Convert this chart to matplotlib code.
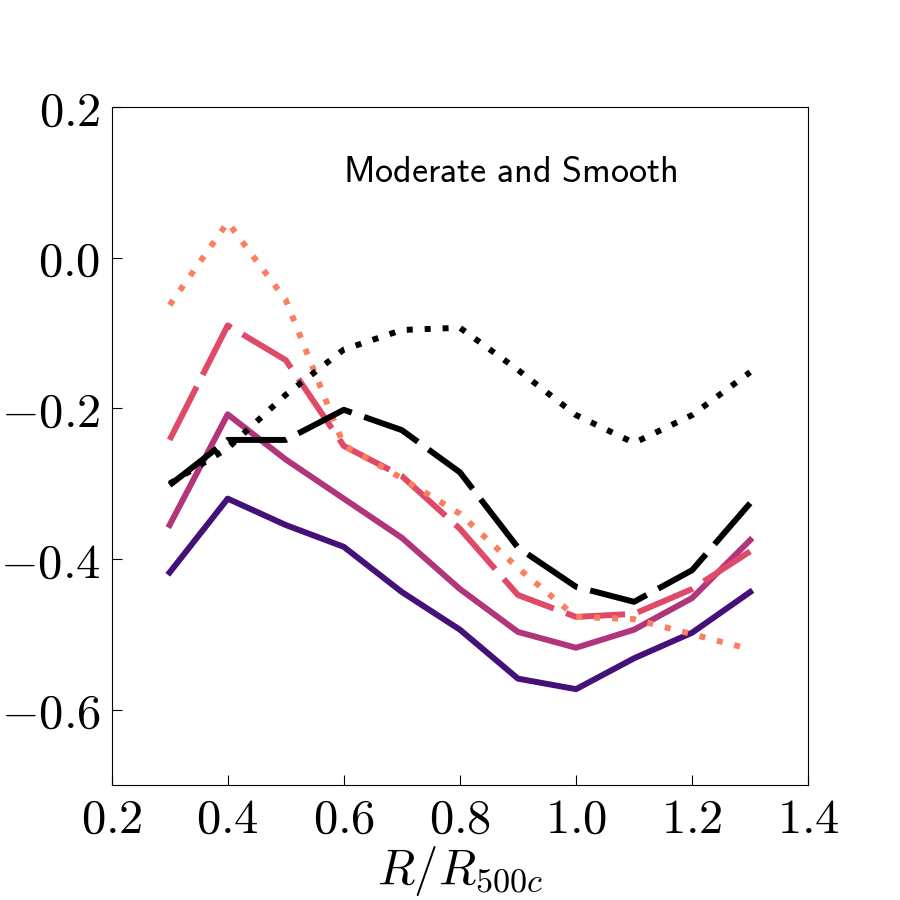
import numpy as np
import matplotlib
matplotlib.use('Agg')
import matplotlib.pyplot as plt
from matplotlib import rcParams

rcParams['mathtext.fontset'] = 'cm'
rcParams['font.family'] = 'serif'
rcParams['font.serif'] = ['DejaVu Serif']

# radial bins
r = [0.3, 0.4, 0.5, 0.6, 0.7, 0.8, 0.9, 1.0, 1.1, 1.2, 1.3]

# series values
dark_solid = [-0.418, -0.320, -0.355, -0.384, -0.444, -0.494, -0.559, -0.573, -0.532, -0.498, -0.444]
mag_solid = [-0.355, -0.208, -0.268, -0.320, -0.372, -0.440, -0.497, -0.518, -0.494, -0.452, -0.375]
pink_dash = [-0.242, -0.090, -0.136, -0.250, -0.290, -0.360, -0.448, -0.477, -0.473, -0.440, -0.390]
orange_dot = [-0.063, 0.047, -0.056, -0.249, -0.293, -0.340, -0.412, -0.477, -0.480, -0.500, -0.520]
black_dash = [-0.302, -0.242, -0.242, -0.202, -0.229, -0.285, -0.385, -0.437, -0.457, -0.415, -0.326]
black_dot = [-0.300, -0.253, -0.182, -0.122, -0.096, -0.093, -0.149, -0.209, -0.246, -0.209, -0.152]

fig = plt.figure(figsize=(9, 9), dpi=100)
ax = fig.add_axes([0.124, 0.128, 0.774, 0.753])

lw = 4.3
dash = (10, 2.2)
dot = (1, 2)
ax.plot(r, dark_solid, color='#451077', lw=lw)
ax.plot(r, mag_solid, color='#b1357b', lw=lw)
ax.plot(r, pink_dash, color='#df4a68', lw=lw, dashes=dash)
ax.plot(r, orange_dot, color='#fb7e5f', lw=lw, dashes=dot)
ax.plot(r, black_dash, color='k', lw=lw, dashes=dash)
ax.plot(r, black_dot, color='k', lw=lw, dashes=dot)

ax.set_xlim(0.2, 1.4)
ax.set_ylim(-0.7, 0.2)

xt = [0.2, 0.4, 0.6, 0.8, 1.0, 1.2, 1.4]
yt = [-0.6, -0.4, -0.2, 0.0, 0.2]
ax.set_xticks(xt)
ax.set_xticklabels([r'$%.1f$' % v for v in xt])
ax.set_yticks(yt)
ax.set_yticklabels([(r'$-%.1f$' % -v) if v < 0 else (r'$%.1f$' % v) for v in yt])
ax.tick_params(direction='in', length=7, width=0.8, labelsize=35, pad=8)

ax.set_xlabel(r'$R/R_{500c}$', fontsize=35, labelpad=1)

ax.text(0.572, 0.904, r'$\mathsf{Moderate\ and\ Smooth}$', transform=ax.transAxes,
        fontsize=26, ha='center', va='center')

fig.savefig('out.png', dpi=100)
